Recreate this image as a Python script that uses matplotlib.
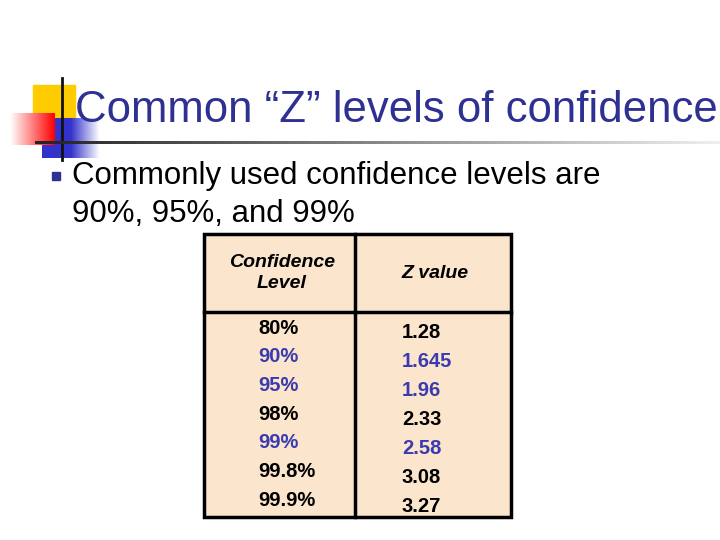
import matplotlib
matplotlib.use("Agg")
import matplotlib.pyplot as plt
import numpy as np
from matplotlib.patches import Rectangle
from matplotlib.colors import LinearSegmentedColormap

title = "Common \u201cZ\u201d levels of confidence"
bullet_lines = ["Commonly used confidence levels are", "90%, 95%, and 99%"]
headers = ["Confidence\nLevel", "Z value"]
levels = ["80%", "90%", "95%", "98%", "99%", "99.8%", "99.9%"]
zvals = ["1.28", "1.645", "1.96", "2.33", "2.58", "3.08", "3.27"]
highlight = [False, True, True, False, True, False, False]

plt.rcParams['font.family'] = ['Liberation Sans', 'DejaVu Sans']
fig = plt.figure(figsize=(7.2, 5.4), dpi=100)
ax = fig.add_axes([0, 0, 1, 1])
ax.axis('off')

# decoration
ax.add_patch(Rectangle((33, 85), 42, 45, color='#FFCC00', zorder=1))
grad_b = np.linspace(0, 1, 100)[None, :]
cb = LinearSegmentedColormap.from_list('b', ['#3333CC', '#3333CC', '#FFFFFF'])
ax.imshow(grad_b, extent=(42, 100, 158, 118), cmap=cb, aspect='auto', zorder=2)
cr = LinearSegmentedColormap.from_list('r', ['#FFFFFF', '#FF8080', '#FF0000'])
ax.imshow(grad_b, extent=(10, 55, 145, 113), cmap=cr, aspect='auto', zorder=3)
ax.plot([62, 62], [78, 160], color='#111111', lw=2, zorder=4)
cg = LinearSegmentedColormap.from_list('g', ['#222222', '#888888', '#EEEEEE'])
ax.imshow(grad_b, extent=(35, 720, 144, 141), cmap=cg, aspect='auto', zorder=4)
ax.set_xlim(0, 720); ax.set_ylim(540, 0)

ax.text(75, 111, title, fontsize=31.5, color='#2E3192', va='center', ha='left', zorder=5)
ax.add_patch(Rectangle((52, 172), 8, 8, color='#2E3192'))
ax.text(72, 176, bullet_lines[0], fontsize=22.5, va='center', ha='left')
ax.text(72, 214, bullet_lines[1], fontsize=22.5, va='center', ha='left')

# table
ax.add_patch(Rectangle((204, 234), 307, 283, facecolor='#FBE5CC', edgecolor='black', lw=2.5))
ax.plot([355, 355], [234, 517], color='black', lw=2.5)
ax.plot([204, 511], [312, 312], color='black', lw=2.5)
ax.text(282, 273, headers[0], fontsize=14, fontweight='bold', style='italic', ha='center',
        va='center', linespacing=1.35)
ax.text(435, 274, headers[1], fontsize=14, fontweight='bold', style='italic', ha='center', va='center')
for i, (l, z, h) in enumerate(zip(levels, zvals, highlight)):
    c = '#3B3BB0' if h else 'black'
    ax.text(258, 328 + i * 28.7, l, fontsize=14.5, fontweight='bold', color=c, va='center', ha='left')
    ax.text(402, 333 + i * 28.9, z, fontsize=14.5, fontweight='bold', color=c, va='center', ha='left')

fig.savefig('out.png', dpi=100)
